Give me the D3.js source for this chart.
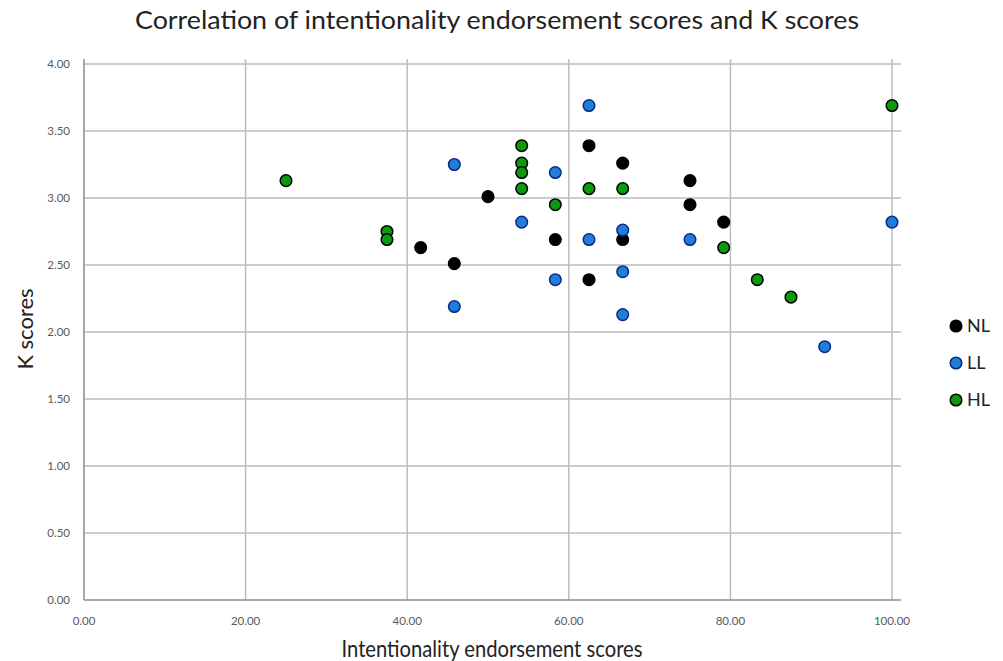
<!DOCTYPE html>
<html>
<head>
<meta charset="utf-8">
<script src="https://cdn.jsdelivr.net/npm/d3@7"></script>
<style>
  body { margin: 0; background: #fff; }
  text { font-family: Lato, "Open Sans", sans-serif; }
</style>
</head>
<body>
<svg id="chart" width="1003" height="661"></svg>
<script>
// groups and their points
var groups = ["NL", "LL", "HL"];
var nlX = [41.67, 45.83, 50.00, 58.33, 62.50, 62.50, 66.67, 66.67, 75.00, 75.00, 79.17];
var nlY = [2.63, 2.51, 3.01, 2.69, 3.39, 2.39, 3.26, 2.69, 3.13, 2.95, 2.82];
var llX = [45.83, 45.83, 54.17, 58.33, 58.33, 62.50, 62.50, 66.67, 66.67, 66.67, 75.00, 91.67, 100.00];
var llY = [3.25, 2.19, 2.82, 3.19, 2.39, 3.69, 2.69, 2.76, 2.45, 2.13, 2.69, 1.89, 2.82];
var hlX = [25.00, 37.50, 37.50, 54.17, 54.17, 54.17, 54.17, 58.33, 62.50, 66.67, 79.17, 83.33, 87.50, 100.00];
var hlY = [3.13, 2.75, 2.69, 3.39, 3.26, 3.19, 3.07, 2.95, 3.07, 3.07, 2.63, 2.39, 2.26, 3.69];
var xTicks = [0, 20, 40, 60, 80, 100];
var yTicks = [0, 0.5, 1, 1.5, 2, 2.5, 3, 3.5, 4];

var fills = { NL: "#000000", LL: "#1f7fd8", HL: "#0a9a0a" };
var strokes = { NL: "#000000", LL: "#0a2a8a", HL: "#000000" };

var svg = d3.select("#chart");
var x = d3.scaleLinear().domain([0, 100]).range([84, 892]);
var y = d3.scaleLinear().domain([0, 4]).range([600, 64]);

// grid
svg.append("g").selectAll("line").data(yTicks.slice(1)).join("line")
    .attr("x1", 84).attr("x2", 901)
    .attr("y1", d => y(d)).attr("y2", d => y(d))
    .attr("stroke", "#bdbdbd").attr("stroke-width", 1.5);
svg.append("g").selectAll("line").data(xTicks.slice(1)).join("line")
    .attr("x1", d => x(d)).attr("x2", d => x(d))
    .attr("y1", 59).attr("y2", 600)
    .attr("stroke", "#bdbdbd").attr("stroke-width", 1.5);

// axes lines
svg.append("line").attr("x1", 84).attr("x2", 84).attr("y1", 59).attr("y2", 600)
    .attr("stroke", "#8c8c8c").attr("stroke-width", 1.5);
svg.append("line").attr("x1", 84).attr("x2", 901).attr("y1", 600).attr("y2", 600)
    .attr("stroke", "#8c8c8c").attr("stroke-width", 1.5);

// tick labels
svg.append("g").selectAll("text").data(yTicks).join("text")
    .attr("x", 70).attr("y", d => y(d)).attr("dy", "0.35em")
    .attr("text-anchor", "end").attr("font-size", 11.5).attr("fill", "#595959")
    .text(d => d3.format(".2f")(d));
svg.append("g").selectAll("text").data(xTicks).join("text")
    .attr("x", d => x(d)).attr("y", 625)
    .attr("text-anchor", "middle").attr("font-size", 11.5).attr("fill", "#595959")
    .text(d => d3.format(".2f")(d));

// titles
svg.append("text").attr("x", 497).attr("y", 29).attr("text-anchor", "middle")
    .attr("font-size", 25).attr("fill", "#222")
    .attr("textLength", 724).attr("lengthAdjust", "spacingAndGlyphs")
    .text("Correlation of intentionality endorsement scores and K scores");
svg.append("text").attr("x", 492).attr("y", 657).attr("text-anchor", "middle")
    .attr("font-size", 23).attr("fill", "#222")
    .attr("textLength", 301).attr("lengthAdjust", "spacingAndGlyphs")
    .text("Intentionality endorsement scores");
svg.append("text").attr("transform", "translate(33,329) rotate(-90)").attr("text-anchor", "middle")
    .attr("font-size", 22).attr("fill", "#222").text("K scores");

// points
var data = {
  NL: nlX.map((v, i) => [v, nlY[i]]),
  LL: llX.map((v, i) => [v, llY[i]]),
  HL: hlX.map((v, i) => [v, hlY[i]])
};
groups.forEach(function(g) {
  svg.append("g").selectAll("circle").data(data[g]).join("circle")
      .attr("cx", d => x(d[0])).attr("cy", d => y(d[1])).attr("r", 5.8)
      .attr("fill", fills[g]).attr("stroke", strokes[g]).attr("stroke-width", 1.5);
});

// legend
var leg = svg.append("g").selectAll("g").data(groups).join("g")
    .attr("transform", (d, i) => "translate(956," + (326 + i * 37) + ")");
leg.append("circle").attr("r", 5.8).attr("fill", d => fills[d]).attr("stroke", d => strokes[d]).attr("stroke-width", 1.5);
leg.append("text").attr("x", 11).attr("dy", "0.35em").attr("font-size", 18).attr("fill", "#222").text(d => d);
</script>
</body>
</html>
